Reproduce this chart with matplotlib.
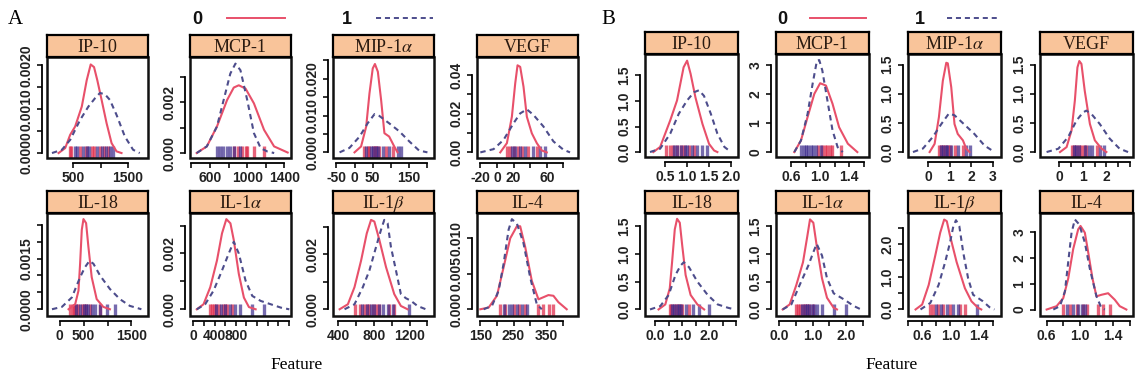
import matplotlib
matplotlib.use("Agg")
import matplotlib.pyplot as plt
from matplotlib.lines import Line2D
from matplotlib.patches import Rectangle

plt.rcParams["mathtext.fontset"] = "stix"

# cytokine panels, same order in A and B
names = ["IP-10", "MCP-1", r"MIP-1$\alpha$", "VEGF",
         "IL-18", r"IL-1$\alpha$", r"IL-1$\beta$", "IL-4"]
groups = ["0", "1"]

# ---------------- A: raw values, density curves (x, density) ----------------
a_ip10_0 = [(227, 0), (348, 0.000113), (439, 0.000415), (530, 0.000604), (652, 0.00106), (742, 0.00166),
            (815, 0.00202), (876, 0.00196), (936, 0.00166), (1015, 0.00121), (1106, 0.00068),
            (1197, 0.000227), (1288, 0.000038), (1379, 0)]
a_ip10_1 = [(106, 0), (288, 0.000075), (439, 0.0003), (621, 0.000755), (773, 0.00106), (894, 0.00125),
            (985, 0.00137), (1076, 0.00134), (1167, 0.00121), (1288, 0.00087), (1439, 0.00038),
            (1591, 0.000075), (1712, 0)]
a_ip10_rug0 = [427, 458, 621, 730, 833, 876, 985, 1058, 1136]
a_ip10_rug1 = [530, 573, 682, 755, 791, 924, 1015, 1094, 1167, 1227]

a_mcp1_0 = [(456, 0), (565, 0.00026), (674, 0.00104), (783, 0.00208), (855, 0.00257), (909, 0.00266),
            (982, 0.00253), (1072, 0.00195), (1181, 0.00091), (1289, 0.00026), (1435, 0.00002)]
a_mcp1_1 = [(456, 0), (565, 0.00026), (674, 0.00104), (746, 0.00208), (818, 0.00312), (873, 0.00351),
            (927, 0.00325), (1000, 0.00208), (1072, 0.00078), (1145, 0.00019), (1217, 0.00006), (1290, 0)]
a_mcp1_rug0 = [855, 898, 946, 982, 1000, 1072, 1181]
a_mcp1_rug1 = [674, 710, 739, 783, 818, 855, 927]

a_mip_0 = [(0, 0), (18, 0.0016), (32, 0.007), (41, 0.016), (50, 0.0228), (56, 0.024), (64, 0.0219),
           (73, 0.0142), (82, 0.0052), (95, 0.0043), (109, 0.0016), (118, 0)]
a_mip_1 = [(-41, 0), (-14, 0.0012), (14, 0.0043), (36, 0.0079), (55, 0.0104), (68, 0.0099), (95, 0.0079),
           (123, 0.0057), (150, 0.003), (177, 0.0005), (200, 0)]
a_mip_rug0 = [27, 36, 41, 50, 55, 60, 68, 86, 105]
a_mip_rug1 = [32, 45, 50, 59, 64, 77, 95, 118, 127]

a_vegf_0 = [(4, 0), (12, 0.0048), (18, 0.0185), (22, 0.0357), (24.8, 0.0451), (28, 0.0443), (32, 0.034),
            (36, 0.0185), (42, 0.0099), (48, 0.0048), (54, 0.001), (60, 0)]
a_vegf_1 = [(-20, 0), (-4, 0.0017), (8, 0.0065), (20, 0.0151), (28, 0.0202), (36, 0.0223), (44, 0.0194),
            (56, 0.0134), (68, 0.0057), (80, 0.0014), (88, 0)]
a_vegf_rug0 = [12, 16, 20, 25, 30, 38, 48]
a_vegf_rug1 = [18, 22, 28, 34, 44, 52, 58]

a_il18_0 = [(187, 0), (325, 0.00015), (394, 0.00055), (428, 0.00135), (463, 0.00235), (498, 0.00267),
            (553, 0.00255), (601, 0.00185), (670, 0.00095), (774, 0.0003), (912, 0.00007), (1050, 0)]
a_il18_1 = [(-159, 0), (48, 0.00007), (256, 0.00035), (428, 0.00095), (532, 0.00125), (622, 0.00143),
            (705, 0.00135), (843, 0.001), (1050, 0.0006), (1258, 0.0003), (1465, 0.0001), (1707, 0)]
a_il18_rug0 = [221, 270, 304, 350, 394, 463, 500, 553, 636, 843]
a_il18_rug1 = [346, 428, 511, 560, 601, 680, 739, 843, 981, 1154]

a_il1a_0 = [(64, 0), (191, 0.00018), (318, 0.00079), (445, 0.00175), (540, 0.00272), (622, 0.00323),
            (699, 0.00308), (762, 0.00248), (857, 0.00127), (953, 0.00042), (1048, 0.00008), (1175, 0)]
a_il1a_1 = [(64, 0), (222, 0.00018), (381, 0.00067), (540, 0.00139), (667, 0.002), (762, 0.00242),
            (857, 0.002), (984, 0.00103), (1111, 0.00048), (1270, 0.0003), (1461, 0.00018),
            (1651, 0.00006), (1810, 0)]
a_il1a_rug0 = [305, 350, 381, 420, 476, 559, 600, 635, 730]
a_il1a_rug1 = [432, 521, 603, 699, 794, 876, 1111, 1334]

a_il1b_0 = [(419, 0), (511, 0.00018), (585, 0.0008), (659, 0.00177), (722, 0.00275), (770, 0.00324),
            (807, 0.00318), (863, 0.00251), (937, 0.00153), (1029, 0.00055), (1103, 0.00012), (1177, 0)]
a_il1b_1 = [(474, 0), (585, 0.00018), (678, 0.0008), (752, 0.00141), (826, 0.00226), (881, 0.00288),
            (918, 0.00324), (955, 0.00312), (992, 0.00226), (1048, 0.00141), (1103, 0.00055),
            (1159, 0.0004), (1214, 0.00031), (1288, 0.00012), (1381, 0)]
a_il1b_rug0 = [596, 641, 696, 720, 752, 789, 830, 863, 974, 1029]
a_il1b_rug1 = [670, 722, 770, 807, 855, 907, 955, 1011, 1196]

a_il4_0 = [(150, 0), (175, 0.00024), (200, 0.0019), (220, 0.0059), (240, 0.01), (260, 0.0117),
           (270, 0.0117), (285, 0.0088), (305, 0.004), (325, 0.0014), (340, 0.0017), (355, 0.002),
           (370, 0.0019), (385, 0.001), (410, 0)]
a_il4_1 = [(160, 0), (185, 0.00048), (205, 0.0026), (220, 0.0064), (235, 0.0112), (245, 0.0127),
           (260, 0.0121), (280, 0.0093), (300, 0.0045), (320, 0.0007), (335, 0)]
a_il4_rug0 = [208, 225, 250, 265, 285, 325, 340, 358, 368]
a_il4_rug1 = [220, 235, 245, 260, 275, 290]

# ---------------- B: normalised values ----------------
b_ip10_0 = [(0.23, 0), (0.385, 0.1), (0.5, 0.36), (0.615, 0.62), (0.77, 1.01), (0.92, 1.66), (1.0, 1.79),
            (1.08, 1.53), (1.19, 1.07), (1.35, 0.55), (1.5, 0.16), (1.615, 0.03), (1.69, 0)]
b_ip10_1 = [(0.154, 0), (0.385, 0.065), (0.615, 0.36), (0.81, 0.75), (1.0, 1.01), (1.154, 1.17),
            (1.27, 1.21), (1.385, 1.1), (1.54, 0.75), (1.69, 0.36), (1.85, 0.1), (2.0, 0)]
b_ip10_rug0 = [0.52, 0.615, 0.68, 0.77, 0.85, 0.92, 1.04, 1.15]
b_ip10_rug1 = [0.69, 0.78, 0.85, 0.95, 1.0, 1.115, 1.23, 1.35, 1.45]

b_mcp1_0 = [(0.646, 0), (0.737, 0.4), (0.828, 1.21), (0.92, 2.01), (1.0, 2.38), (1.08, 2.3), (1.17, 1.67),
            (1.26, 0.86), (1.38, 0.29), (1.51, 0)]
b_mcp1_1 = [(0.646, 0), (0.737, 0.4), (0.828, 1.32), (0.897, 2.36), (0.956, 3.16), (0.988, 3.18),
            (1.03, 2.82), (1.1, 1.78), (1.17, 0.75), (1.24, 0.17), (1.31, 0)]
b_mcp1_rug0 = [0.965, 1.03, 1.06, 1.1, 1.13, 1.16, 1.29]
b_mcp1_rug1 = [0.737, 0.78, 0.81, 0.84, 0.88, 0.9, 0.94, 1.01]

b_mip_0 = [(0.08, 0), (0.31, 0.14), (0.51, 0.6), (0.69, 1.22), (0.85, 1.53), (0.92, 1.52), (1.08, 1.11),
           (1.23, 0.48), (1.38, 0.31), (1.62, 0.2), (1.77, 0.06), (1.92, 0)]
b_mip_1 = [(-0.69, 0), (-0.23, 0.06), (0.23, 0.26), (0.62, 0.48), (0.97, 0.66), (1.23, 0.63),
           (1.69, 0.47), (2.15, 0.31), (2.62, 0.11), (3.08, 0)]
b_mip_rug0 = [0.51, 0.6, 0.69, 0.8, 0.92, 1.0, 1.23, 1.62]
b_mip_rug1 = [0.62, 0.72, 0.82, 0.9, 1.08, 1.38, 1.77, 1.95]

b_vegf_0 = [(0.03, 0), (0.31, 0.085), (0.52, 0.37), (0.66, 0.88), (0.77, 1.45), (0.85, 1.56), (0.94, 1.51),
            (1.08, 1.05), (1.3, 0.48), (1.51, 0.2), (1.79, 0.06), (2.0, 0)]
b_vegf_1 = [(-0.54, 0), (-0.04, 0.057), (0.38, 0.26), (0.73, 0.54), (1.01, 0.68), (1.15, 0.71),
            (1.37, 0.65), (1.72, 0.48), (2.14, 0.23), (2.56, 0.057), (2.92, 0)]
b_vegf_rug0 = [0.52, 0.62, 0.73, 0.84, 0.94, 1.04, 1.15, 1.58]
b_vegf_rug1 = [0.62, 0.7, 0.85, 1.08, 1.25, 1.37, 1.72, 1.89]

b_il18_0 = [(0.125, 0), (0.375, 0.09), (0.54, 0.38), (0.625, 0.85), (0.725, 1.44), (0.81, 1.63),
            (0.91, 1.56), (1.0, 1.15), (1.125, 0.62), (1.31, 0.26), (1.56, 0.09), (1.81, 0)]
b_il18_1 = [(-0.19, 0), (0.19, 0.06), (0.5, 0.26), (0.75, 0.62), (0.94, 0.79), (1.06, 0.85), (1.25, 0.76),
            (1.56, 0.5), (1.94, 0.26), (2.31, 0.09), (2.69, 0.03), (2.94, 0)]
b_il18_rug0 = [0.54, 0.6, 0.69, 0.76, 0.84, 0.92, 1.0, 1.25]
b_il18_rug1 = [0.63, 0.7, 0.79, 0.87, 0.94, 1.13, 1.38, 1.63, 2.0]

b_il1a_0 = [(0.1, 0), (0.31, 0.09), (0.51, 0.44), (0.71, 0.85), (0.84, 1.32), (0.92, 1.62), (1.02, 1.56),
            (1.12, 1.15), (1.28, 0.56), (1.43, 0.21), (1.63, 0.03), (1.73, 0)]
b_il1a_1 = [(0.1, 0), (0.36, 0.09), (0.61, 0.44), (0.87, 0.79), (1.02, 1.03), (1.12, 1.18), (1.28, 0.97),
            (1.43, 0.56), (1.63, 0.29), (1.94, 0.18), (2.24, 0.06), (2.45, 0)]
b_il1a_rug0 = [0.51, 0.57, 0.63, 0.7, 0.77, 0.84, 0.9, 1.02]
b_il1a_rug1 = [0.69, 0.76, 0.84, 0.9, 0.97, 1.05, 1.12, 1.28, 1.63, 1.99]

b_il1b_0 = [(0.507, 0), (0.6, 0.15), (0.693, 0.75), (0.786, 1.65), (0.856, 2.35), (0.912, 2.75),
            (0.949, 2.7), (0.995, 2.25), (1.088, 1.45), (1.205, 0.65), (1.298, 0.25), (1.391, 0.05),
            (1.437, 0)]
b_il1b_1 = [(0.577, 0), (0.716, 0.2), (0.833, 0.75), (0.926, 1.45), (0.995, 2.05), (1.042, 2.55),
            (1.079, 2.73), (1.126, 2.55), (1.181, 1.75), (1.251, 0.95), (1.321, 0.45), (1.391, 0.35),
            (1.46, 0.25), (1.553, 0.07), (1.623, 0)]
b_il1b_rug0 = [0.71, 0.76, 0.82, 0.9, 0.995, 1.13, 1.2]
b_il1b_rug1 = [0.8, 0.865, 0.95, 1.04, 1.11, 1.37]

b_il4_0 = [(0.6, 0), (0.72, 0.13), (0.8, 0.44), (0.86, 1.2), (0.92, 2.34), (0.98, 3.1), (1.008, 3.23),
           (1.06, 2.97), (1.1, 2.22), (1.152, 1.2), (1.2, 0.51), (1.26, 0.57), (1.34, 0.63), (1.42, 0.38),
           (1.48, 0.13), (1.56, 0)]
b_il4_1 = [(0.68, 0), (0.76, 0.13), (0.82, 0.7), (0.86, 1.84), (0.9, 2.97), (0.94, 3.48), (0.992, 3.29),
           (1.06, 2.59), (1.12, 1.58), (1.2, 0.51), (1.26, 0.06), (1.3, 0)]
b_il4_rug0 = [0.792, 0.88, 0.96, 1.04, 1.088, 1.22, 1.28, 1.36]
b_il4_rug1 = [0.84, 0.912, 0.98, 1.02, 1.06]

# axis ticks and the labels R kept (dropped ones blank)
a_xticks = [[500, 1000, 1500], [400, 600, 800, 1000, 1200, 1400], [-50, 0, 50, 100, 150, 200],
            [-20, 0, 20, 40, 60, 80], [0, 500, 1000, 1500],
            [0, 200, 400, 600, 800, 1000, 1200, 1400, 1600, 1800],
            [400, 600, 800, 1000, 1200, 1400], [150, 200, 250, 300, 350, 400]]
a_xlabels = [["500", "", "1500"], ["", "600", "", "1000", "", "1400"], ["-50", "0", "50", "", "150", ""],
             ["-20", "0", "20", "", "60", ""], ["0", "500", "", "1500"],
             ["0", "", "400", "", "800", "", "", "", "", ""],
             ["400", "", "800", "", "1200", ""], ["150", "", "250", "", "350", ""]]
a_yticks = [[0, 0.0005, 0.001, 0.0015, 0.002], [0, 0.001, 0.002, 0.003],
            [0, 0.005, 0.01, 0.015, 0.02, 0.025], [0, 0.01, 0.02, 0.03, 0.04],
            [0, 0.0005, 0.001, 0.0015, 0.002, 0.0025], [0, 0.001, 0.002, 0.003],
            [0, 0.001, 0.002, 0.003], [0, 0.005, 0.01]]
a_ylabels = [["0.0000", "", "0.0010", "", "0.0020"], ["0.000", "", "0.002", ""],
             ["0.000", "", "0.010", "", "0.020", ""], ["0.00", "", "0.02", "", "0.04"],
             ["0.0000", "", "", "0.0015", "", ""], ["0.000", "", "0.002", ""],
             ["0.000", "", "0.002", ""], ["0.000", "0.005", "0.010"]]

b_xticks = [[0.5, 1.0, 1.5, 2.0], [0.6, 0.8, 1.0, 1.2, 1.4, 1.6], [0, 1, 2, 3],
            [0, 0.5, 1, 1.5, 2, 2.5, 3], [0, 0.5, 1, 1.5, 2, 2.5, 3], [0, 0.5, 1, 1.5, 2, 2.5],
            [0.4, 0.6, 0.8, 1.0, 1.2, 1.4, 1.6], [0.6, 0.8, 1.0, 1.2, 1.4, 1.6]]
b_xlabels = [["0.5", "1.0", "1.5", "2.0"], ["0.6", "", "1.0", "", "1.4", ""], ["0", "1", "2", "3"],
             ["0", "", "1", "", "2", "", ""], ["0.0", "", "1.0", "", "2.0", "", ""],
             ["0.0", "", "1.0", "", "2.0", ""], ["", "0.6", "", "1.0", "", "1.4", ""],
             ["0.6", "", "1.0", "", "1.4", ""]]
b_yticks = [[0, 0.5, 1, 1.5], [0, 1, 2, 3], [0, 0.5, 1, 1.5], [0, 0.5, 1, 1.5],
            [0, 0.5, 1, 1.5], [0, 0.5, 1, 1.5], [0, 0.5, 1, 1.5, 2, 2.5], [0, 1, 2, 3]]
b_ylabels = [["0.0", "0.5", "1.0", "1.5"], ["0", "1", "2", "3"], ["0.0", "0.5", "1.0", "1.5"],
             ["0.0", "0.5", "1.0", "1.5"], ["0.0", "0.5", "1.0", "1.5"], ["0.0", "0.5", "1.0", "1.5"],
             ["0.0", "", "1.0", "", "2.0", ""], ["0", "1", "2", "3"]]

a_curves = [(a_ip10_0, a_ip10_1, a_ip10_rug0, a_ip10_rug1), (a_mcp1_0, a_mcp1_1, a_mcp1_rug0, a_mcp1_rug1),
            (a_mip_0, a_mip_1, a_mip_rug0, a_mip_rug1), (a_vegf_0, a_vegf_1, a_vegf_rug0, a_vegf_rug1),
            (a_il18_0, a_il18_1, a_il18_rug0, a_il18_rug1), (a_il1a_0, a_il1a_1, a_il1a_rug0, a_il1a_rug1),
            (a_il1b_0, a_il1b_1, a_il1b_rug0, a_il1b_rug1), (a_il4_0, a_il4_1, a_il4_rug0, a_il4_rug1)]
b_curves = [(b_ip10_0, b_ip10_1, b_ip10_rug0, b_ip10_rug1), (b_mcp1_0, b_mcp1_1, b_mcp1_rug0, b_mcp1_rug1),
            (b_mip_0, b_mip_1, b_mip_rug0, b_mip_rug1), (b_vegf_0, b_vegf_1, b_vegf_rug0, b_vegf_rug1),
            (b_il18_0, b_il18_1, b_il18_rug0, b_il18_rug1), (b_il1a_0, b_il1a_1, b_il1a_rug0, b_il1a_rug1),
            (b_il1b_0, b_il1b_1, b_il1b_rug0, b_il1b_rug1), (b_il4_0, b_il4_1, b_il4_rug0, b_il4_rug1)]

# plot-region limits as drawn
a_xlim = [(15, 1864), (384, 1471), (-59, 218), (-24, 97.6), (-263, 1845), (-64, 1842), (345, 1473), (140, 444)]
a_ylim = [(-0.000113, 0.00219), (-0.000195, 0.00377), (-0.00153, 0.0259), (-0.0029, 0.0494),
          (-0.0002, 0.00285), (-0.00024, 0.00345), (-0.000245, 0.00349), (-0.00095, 0.01357)]
b_xlim = [(0.04, 2.16), (0.395, 1.67), (-0.92, 3.38), (-0.82, 3.13), (-0.375, 3.06), (-0.1, 2.69),
          (0.414, 1.716), (0.52, 1.64)]
b_ylim = [(-0.097, 1.92), (-0.17, 3.39), (-0.085, 1.68), (-0.085, 1.68), (-0.118, 1.735), (-0.118, 1.735),
          (-0.2, 2.95), (-0.25, 3.73)]

RED = "#e8506a"
BLUE = "#4d4d8c"
RUG0 = "#e0304f"
RUG1 = "#3c2c8c"
STRIP = "#f9c49a"
SERIF = ["Liberation Serif", "DejaVu Serif"]
SANS = ["Liberation Sans Narrow", "Liberation Sans", "DejaVu Sans"]
W, H = 1140, 382

fig = plt.figure(figsize=(11.4, 3.82), dpi=100)


def pos(left, top, w, h):
    return [left / W, 1 - (top + h) / H, w / W, h / H]


def draw_panel(box, name, data, xlim, ylim, xt, xl, yt, yl):
    left, top, w, h = box
    c0, c1, r0, r1 = data
    ax = fig.add_axes(pos(left, top, w, h))
    x0, y0 = zip(*c0)
    x1, y1 = zip(*c1)
    ax.plot(x0, y0, color=RED, lw=1.5, zorder=3, solid_joinstyle="round")
    ax.plot(x1, y1, color=BLUE, lw=1.5, dashes=(2.6, 2.0), zorder=3)
    tr = ax.get_xaxis_transform()
    ax.vlines(r0, 0, 0.12, transform=tr, colors=RUG0, lw=2.4, alpha=0.75, zorder=2)
    ax.vlines(r1, 0, 0.12, transform=tr, colors=RUG1, lw=2.4, alpha=0.7, zorder=2)
    ax.set_xlim(xlim)
    ax.set_ylim(ylim)
    for s in ("top", "right"):
        ax.spines[s].set_visible(False)
    for s in ("left", "bottom"):
        ax.spines[s].set_position(("outward", 3.6))
        ax.spines[s].set_linewidth(1.3)
    ax.spines["left"].set_bounds(yt[0], yt[-1])
    ax.spines["bottom"].set_bounds(xt[0], xt[-1])
    ax.add_patch(Rectangle((0, 0), 1, 1, transform=ax.transAxes, fill=False, lw=1.8,
                           ec="#111111", clip_on=False, zorder=5))
    ax.set_xticks(xt)
    ax.set_xticklabels(xl)
    ax.set_yticks(yt)
    ax.set_yticklabels(yl, rotation=90, va="center")
    ax.tick_params(length=3.6, width=1.3, labelsize=10, pad=2.5, colors="#222222")
    for lab in ax.get_xticklabels() + ax.get_yticklabels():
        lab.set_fontweight("bold")
        lab.set_family(SANS)

    st = fig.add_axes(pos(left, top - 22, w, 22))
    st.set_facecolor(STRIP)
    st.set_xticks([])
    st.set_yticks([])
    for s in st.spines.values():
        s.set_linewidth(1.6)
    st.text(0.5, 0.45, name, ha="center", va="center", fontsize=13, family=SERIF,
            color="#2a1a10", transform=st.transAxes)


a_lefts = [47, 190, 333, 477]
b_lefts = [645, 776, 908, 1040]
a_rows = [(57, 101), (213, 103)]
b_rows = [(54, 103), (213, 103)]

for i in range(8):
    r, c = divmod(i, 4)
    draw_panel((a_lefts[c], a_rows[r][0], 101, a_rows[r][1]), names[i], a_curves[i],
               a_xlim[i], a_ylim[i], a_xticks[i], a_xlabels[i], a_yticks[i], a_ylabels[i])
    draw_panel((b_lefts[c], b_rows[r][0], 93, b_rows[r][1]), names[i], b_curves[i],
               b_xlim[i], b_ylim[i], b_xticks[i], b_xlabels[i], b_yticks[i], b_ylabels[i])

# legends along the top
for x_lab, x_line, style in [(197, (227, 285), RED), (347, (376, 433), BLUE),
                             (782, (810, 866), RED), (920, (947, 1000), BLUE)]:
    g = groups[0] if style == RED else groups[1]
    fig.text(x_lab / W, 1 - 19 / H, g, ha="center", va="center", fontsize=13,
             fontweight="bold", family=SANS, color="#111111")
    ln = Line2D([x_line[0] / W, x_line[1] / W], [1 - 18 / H, 1 - 18 / H], transform=fig.transFigure,
                color=style, lw=1.4)
    if style == BLUE:
        ln.set_dashes((2.6, 2.0))
    fig.add_artist(ln)

fig.text(15 / W, 1 - 20 / H, "A", ha="center", va="center", fontsize=15, family=SERIF)
fig.text(608 / W, 1 - 20 / H, "B", ha="center", va="center", fontsize=15, family=SERIF)
fig.text(297 / W, 1 - 365 / H, "Feature", ha="center", va="center", fontsize=12.5, family=SERIF)
fig.text(892 / W, 1 - 365 / H, "Feature", ha="center", va="center", fontsize=12.5, family=SERIF)

fig.savefig("out.png", dpi=100)
